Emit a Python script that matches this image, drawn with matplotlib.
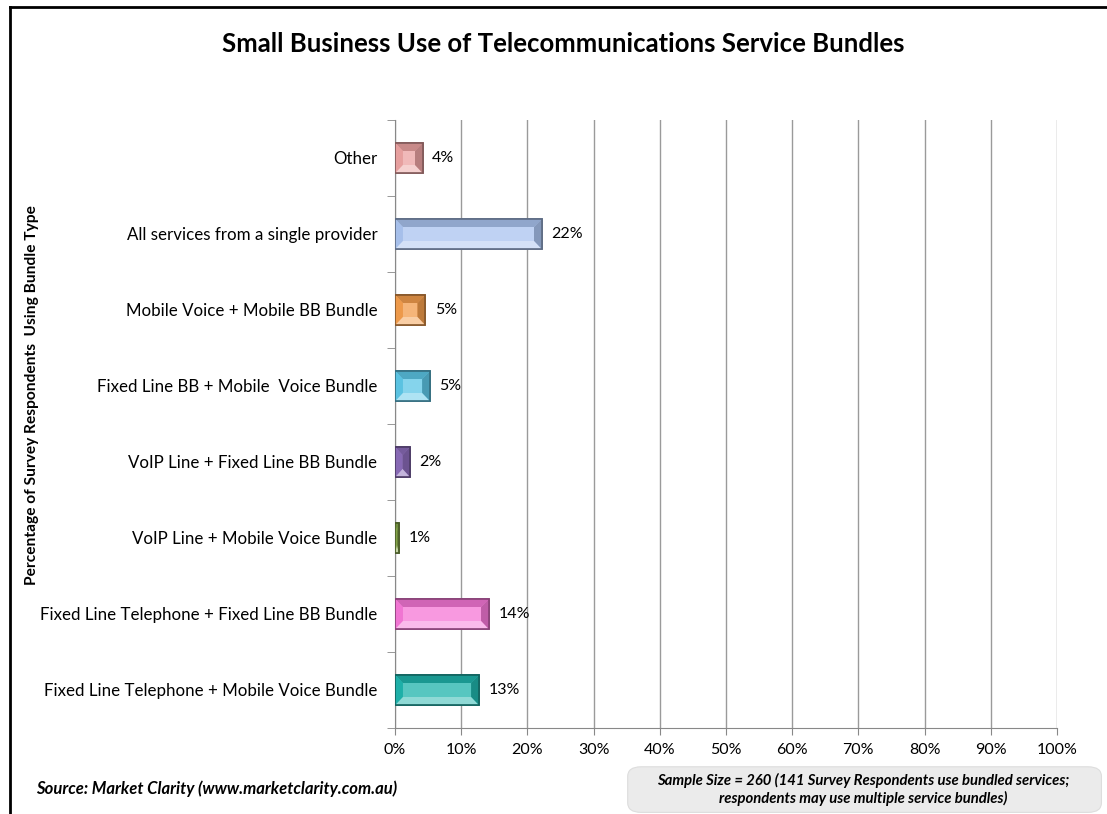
import numpy as np
import matplotlib
matplotlib.use("Agg")
import matplotlib.pyplot as plt
from matplotlib.patches import Polygon, FancyBboxPatch
from matplotlib.lines import Line2D
from matplotlib.colors import to_rgb

plt.rcParams["font.family"] = ["Lato", "DejaVu Sans"]

# data, bottom to top
categories = [
    "Fixed Line Telephone + Mobile Voice Bundle",
    "Fixed Line Telephone + Fixed Line BB Bundle",
    "VoIP Line + Mobile Voice Bundle",
    "VoIP Line + Fixed Line BB Bundle",
    "Fixed Line BB + Mobile  Voice Bundle",
    "Mobile Voice + Mobile BB Bundle",
    "All services from a single provider",
    "Other",
]
values = [12.7, 14.2, 0.6, 2.3, 5.3, 4.6, 22.2, 4.2]
labels = ["13%", "14%", "1%", "2%", "5%", "5%", "22%", "4%"]
colors = ["#1fb3ab", "#f577d6", "#86a84a", "#8a6bb8",
          "#5cc6e6", "#f29c4c", "#a9c3ef", "#eba2a1"]
xticks = list(range(0, 101, 10))


def shade(c, f):
    r = np.array(to_rgb(c))
    if f < 0:
        return tuple(r * (1 + f))
    return tuple(r + (1 - r) * f)


fig = plt.figure(figsize=(11.07, 8.14), dpi=100)
ax = fig.add_axes([0.3568, 0.1057, 0.598, 0.7469])

bh = 0.4
bx = 1.2   # bevel in % units
by = 0.11  # bevel in category units
for i, (v, c) in enumerate(zip(values, colors)):
    y0, y1 = i - bh / 2, i + bh / 2
    ax.barh(i, v, height=bh, color=shade(c, 0.15),
            edgecolor=shade(c, -0.45), lw=1.2, zorder=3)
    b = min(bx, v / 2.0)
    # top bevel (darker), bottom bevel (lighter), sides
    ax.add_patch(Polygon([(0, y1), (v, y1), (v - b, y1 - by), (b, y1 - by)],
                         closed=True, fc=shade(c, -0.15), ec="none", zorder=4))
    ax.add_patch(Polygon([(0, y0), (v, y0), (v - b, y0 + by), (b, y0 + by)],
                         closed=True, fc=shade(c, 0.5), ec="none", zorder=4))
    ax.add_patch(Polygon([(0, y0), (b, y0 + by), (b, y1 - by), (0, y1)],
                         closed=True, fc=shade(c, -0.02), ec="none", zorder=4))
    ax.add_patch(Polygon([(v, y0), (v - b, y0 + by), (v - b, y1 - by), (v, y1)],
                         closed=True, fc=shade(c, -0.22), ec="none", zorder=4))
    if v > 2 * b:
        ax.add_patch(Polygon([(b, y0 + by), (v - b, y0 + by), (v - b, y1 - by), (b, y1 - by)],
                             closed=True, fc=shade(c, 0.25), ec="none", zorder=4))
    ax.barh(i, v, height=bh, color="none",
            edgecolor=shade(c, -0.45), lw=1.2, zorder=5)
    ax.text(v + 1.4, i, labels[i], va="center", ha="left", fontsize=11.5, zorder=6)

ax.set_xlim(0, 100)
ax.set_ylim(-0.5, len(categories) - 0.5)
ax.set_xticks(xticks)
ax.set_xticklabels([f"{t}%" for t in xticks], fontsize=11.5)
ax.set_yticks(range(len(categories)))
ax.set_yticklabels(categories, fontsize=12.2)
ax.set_yticks(np.arange(-0.5, len(categories), 1), minor=True)
ax.tick_params(axis="y", which="major", length=0, pad=12.7)
ax.tick_params(axis="y", which="minor", length=6, color="#888888")
ax.tick_params(axis="x", length=5, color="#888888", pad=6)
ax.grid(axis="x", color="#9a9a9a", lw=1.0, zorder=0)
ax.set_axisbelow(True)
for s in ["top", "right"]:
    ax.spines[s].set_visible(False)
ax.spines["left"].set_color("#888888")
ax.spines["bottom"].set_color("#888888")

fig.text(0.5087, 0.946, "Small Business Use of Telecommunications Service Bundles",
         ha="center", va="center", fontsize=18.5, fontweight="bold")
fig.text(0.029, 0.515, "Percentage of Survey Respondents  Using Bundle Type",
         rotation=90, ha="center", va="center", fontsize=11.2, fontweight="bold")
fig.text(0.033, 0.031, "Source: Market Clarity (www.marketclarity.com.au)",
         ha="left", va="center", fontsize=12, fontweight="bold", style="italic")

box = FancyBboxPatch((0.567, 0.002), 0.428, 0.056,
                     boxstyle="round,pad=0,rounding_size=0.012",
                     transform=fig.transFigure, fc="#ebebeb", ec="#dddddd", lw=0.8)
fig.add_artist(box)
fig.text(0.780, 0.030,
         "Sample Size = 260 (141 Survey Respondents use bundled services;\nrespondents may use multiple service bundles)",
         ha="center", va="center", fontsize=10.7, fontweight="bold", style="italic",
         linespacing=1.3)

# outer frame (left and top edges)
fig.add_artist(Line2D([0.0090, 0.0090], [0.0, 0.9915], transform=fig.transFigure,
                      color="black", lw=2))
fig.add_artist(Line2D([0.0090, 1.0], [0.9915, 0.9915], transform=fig.transFigure,
                      color="black", lw=2))

fig.savefig("out.png", dpi=100)
